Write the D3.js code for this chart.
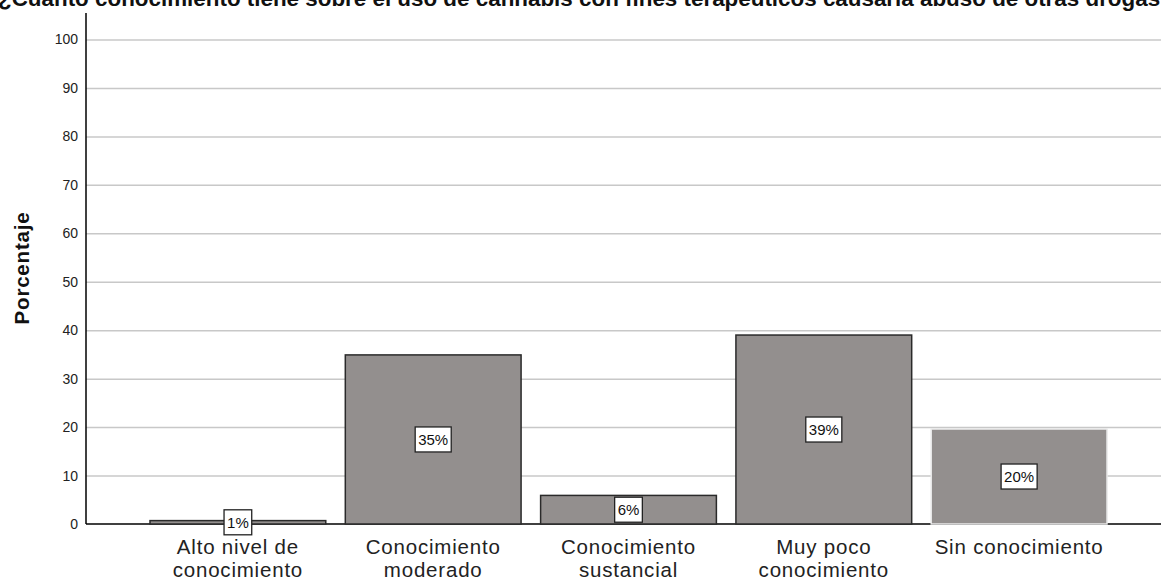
<!DOCTYPE html>
<html lang="es">
<head>
    <meta charset="UTF-8">
    <title>Conocimiento cannabis</title>
    <script src="https://d3js.org/d3.v7.min.js"></script>
    <style>
        body { margin: 0; background: white; }
        text { font-family: "Liberation Sans", Arial, sans-serif; }
        .grids .domain { stroke: none; }
        .grids line { stroke: #c8c8c8; stroke-width: 1.5; }
    </style>
</head>
<body>
    <svg id="svg1" height="581" width="1161" style="background:white;display:block;"></svg>

    <script>
        // data ----------------------------------------------------------
        const categories = [
            ["Alto nivel de", "conocimiento"],
            ["Conocimiento", "moderado"],
            ["Conocimiento", "sustancial"],
            ["Muy poco", "conocimiento"],
            ["Sin conocimiento"]
        ];
        const percents = [0.7, 34.9, 5.9, 39.0, 19.6];
        const percentLabels = ["1%", "35%", "6%", "39%", "20%"];
        const yTicks = [0, 10, 20, 30, 40, 50, 60, 70, 80, 90, 100];
        const title = "¿Cuánto conocimiento tiene sobre el uso de cannabis con fines terapéuticos causaría abuso de otras drogas?";

        // svg configuration ---------------------------------------------
        const svg1 = d3.select("svg#svg1");
        const margin = {left: 86, right: 0, top: 13, bottom: 57};
        const keys = categories.map(d => d.join(" "));

        const xScale = d3.scaleBand().domain(keys)
            .range([150, 1107]).paddingInner(0.1).paddingOuter(0);
        const yScale = d3.scaleLinear().domain([0, 100]).range([524, 39.5]);

        // grids
        svg1.append("g")
            .attr("class", "grids")
            .attr("transform", `translate(${margin.left},0)`)
            .call(d3.axisLeft(yScale).tickValues(yTicks.slice(1)).tickSize(-(1161 - margin.left)).tickFormat(""));

        // y axis
        const yAxis = svg1.append("g")
            .attr("transform", `translate(${margin.left},0)`)
            .call(d3.axisLeft(yScale).tickValues(yTicks).tickSize(0).tickPadding(8));
        yAxis.select(".domain").remove();
        yAxis.selectAll("text").attr("font-size", 14).attr("fill", "#222")
            .attr("font-family", "Liberation Sans, Arial, sans-serif");
        svg1.append("line")
            .attr("x1", margin.left).attr("x2", margin.left)
            .attr("y1", margin.top).attr("y2", yScale(0))
            .attr("stroke", "black").attr("stroke-width", 1.5);
        svg1.append("line")
            .attr("x1", margin.left).attr("x2", 1161)
            .attr("y1", yScale(0)).attr("y2", yScale(0))
            .attr("stroke", "black").attr("stroke-width", 1.5);

        // bars
        svg1.selectAll("rect.bar")
            .data(percents)
            .join("rect")
            .attr("class", "bar")
            .attr("x", (d, i) => xScale(keys[i]))
            .attr("y", d => yScale(d))
            .attr("width", xScale.bandwidth())
            .attr("height", d => yScale(0) - yScale(d))
            .attr("fill", "#938f8e")
            .attr("stroke", (d, i) => i === percents.length - 1 ? "#e8e8e8" : "#2a2a2a")
            .attr("stroke-width", 1.5);

        // value labels in boxes
        const lab = svg1.selectAll("g.lab")
            .data(percents)
            .join("g")
            .attr("class", "lab")
            .attr("transform", (d, i) => `translate(${xScale(keys[i]) + xScale.bandwidth() / 2},${(yScale(d) + yScale(0)) / 2})`);
        lab.append("text")
            .attr("text-anchor", "middle")
            .attr("dy", "0.36em")
            .attr("font-size", 15)
            .attr("fill", "#111")
            .text((d, i) => percentLabels[i]);
        lab.each(function() {
            const g = d3.select(this);
            const bb = g.select("text").node().getBBox();
            g.insert("rect", "text")
                .attr("x", bb.x - 3).attr("y", -12.5)
                .attr("width", bb.width + 6).attr("height", 25)
                .attr("fill", "white").attr("stroke", "#222").attr("stroke-width", 1.3);
        });

        // category labels
        const cat = svg1.selectAll("text.cat")
            .data(categories)
            .join("text")
            .attr("class", "cat")
            .attr("text-anchor", "middle")
            .attr("font-size", 20.5)
            .attr("letter-spacing", 0.8)
            .attr("fill", "#222")
            .attr("x", (d, i) => xScale(keys[i]) + xScale.bandwidth() / 2)
            .attr("y", 554);
        cat.selectAll("tspan")
            .data(d => d)
            .join("tspan")
            .attr("x", function() { return d3.select(this.parentNode).attr("x"); })
            .attr("dy", (d, i) => i === 0 ? 0 : 23)
            .text(d => d);

        // y axis title
        svg1.append("text")
            .attr("transform", "translate(29,268) rotate(-90)")
            .attr("text-anchor", "middle")
            .attr("font-size", 20.5)
            .attr("letter-spacing", 0.8)
            .attr("font-weight", "bold")
            .attr("fill", "#111")
            .text("Porcentaje");

        // chart title (runs past both edges, as in the original)
        svg1.append("text")
            .attr("x", -2)
            .attr("y", 6)
            .attr("text-anchor", "start")
            .attr("font-size", 22.4)
            .attr("font-weight", "bold")
            .attr("fill", "#111")
            .text(title);
    </script>
</body>
</html>
